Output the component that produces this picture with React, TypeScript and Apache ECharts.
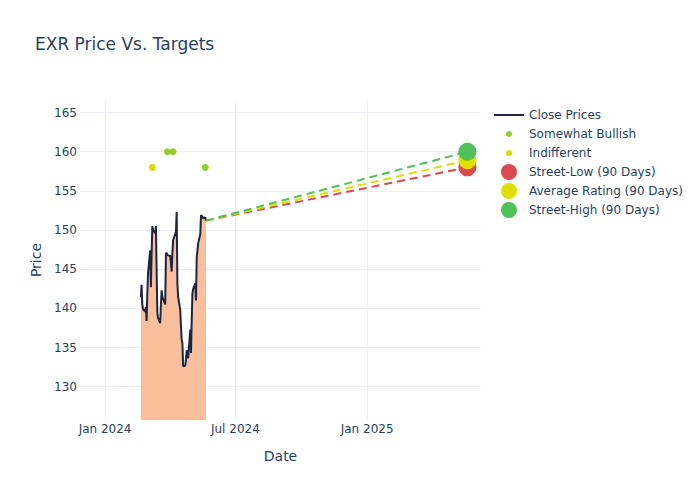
import React, { useEffect, useRef } from "react";
import * as echarts from "echarts";

const closeDates: string[] = [
  "2024-02-20", "2024-02-21", "2024-02-22", "2024-02-23", "2024-02-26", "2024-02-27", "2024-02-28", "2024-02-29",
  "2024-03-01", "2024-03-04", "2024-03-05", "2024-03-06", "2024-03-07", "2024-03-08", "2024-03-11", "2024-03-12",
  "2024-03-13", "2024-03-14", "2024-03-15", "2024-03-18", "2024-03-19", "2024-03-20", "2024-03-21", "2024-03-22",
  "2024-03-25", "2024-03-26", "2024-03-27", "2024-03-28",
  "2024-04-01", "2024-04-02", "2024-04-03", "2024-04-04", "2024-04-05", "2024-04-08", "2024-04-09", "2024-04-10",
  "2024-04-11", "2024-04-12", "2024-04-15", "2024-04-16", "2024-04-17", "2024-04-18", "2024-04-19", "2024-04-22",
  "2024-04-23", "2024-04-24", "2024-04-25", "2024-04-26", "2024-04-29", "2024-04-30",
  "2024-05-01", "2024-05-02", "2024-05-03", "2024-05-06", "2024-05-07", "2024-05-08", "2024-05-09", "2024-05-10",
  "2024-05-13", "2024-05-14", "2024-05-15", "2024-05-16", "2024-05-17", "2024-05-20", "2024-05-21",
];
const closePrices: number[] = [
  141.4, 143.0, 140.5, 139.9, 139.6, 140.2, 138.4, 141.8,
  144.5, 147.4, 142.7, 147.0, 150.5, 150.0, 149.6, 150.5,
  145.0, 139.4, 138.8, 138.1, 140.5, 142.3, 141.5, 141.2,
  140.5, 147.0, 147.1, 146.8,
  146.7, 145.8, 144.7, 147.0, 148.7, 149.5, 149.8, 152.3,
  143.2, 141.5, 139.8, 137.8, 136.0, 135.6, 132.6, 132.7,
  133.5, 134.6, 134.5, 133.6, 137.3, 134.3,
  138.5, 141.9, 142.5, 143.2, 141.0, 146.6, 147.3, 148.3,
  149.5, 151.9, 151.8, 151.7, 151.5, 151.6, 151.2,
];

const bullishDates: string[] = ["2024-03-28", "2024-04-05", "2024-05-20"];
const bullishTargets: number[] = [160, 160, 158];
const indifferentDates: string[] = ["2024-03-07"];
const indifferentTargets: number[] = [158];

const targetDate = "2025-05-21";
const streetLow = 158;
const averageRating = 158.9;
const streetHigh = 160;

const xMin = "2023-11-27";
const xMax = "2025-06-09";
const yMin = 125.75;
const yMax = 166.6;
const yStep = 0.25;
const yLabelStep = 5;
const xLabelMonths = [0, 6];

const monthNames = ["Jan", "Feb", "Mar", "Apr", "May", "Jun", "Jul", "Aug", "Sep", "Oct", "Nov", "Dec"];

const FONT = "DejaVu Sans";
const TEXT = "#2a3f5f";
const GRID = "#ebf0f8";
const NONE = "rgba(0,0,0,0)";

const lineIcon = "path://M0 0M30 16M0 7H30V9H0Z";
const smallDot = "path://M0 0M30 16M15 5A3 3 0 1 1 15 11A3 3 0 1 1 15 5Z";
const bigDot = "path://M0 0M30 16M15 0A8 8 0 1 1 15 16A8 8 0 1 1 15 0Z";

export default function App() {
  const ref = useRef<HTMLDivElement>(null);
  useEffect(() => {
    if (!ref.current) return;
    const chart = echarts.init(ref.current, undefined, { renderer: "svg" });
    const lastDate = closeDates[closeDates.length - 1];
    const lastClose = closePrices[closePrices.length - 1];
    const targetSeries = (name: string, value: number, color: string) => ({
      name,
      type: "line",
      data: [
        { value: [lastDate, lastClose], symbol: "none" },
        { value: [targetDate, value], symbol: "circle", symbolSize: 18 },
      ],
      lineStyle: { color, width: 2, type: [8, 5] },
      itemStyle: { color },
      z: 3,
    });
    const perLabel = Math.round(yLabelStep / yStep);
    const firstLabelIdx = Math.round((Math.ceil(yMin / yLabelStep) * yLabelStep - yMin) / yStep);
    const ySplitColors = Array.from({ length: perLabel }, (_, i) =>
      i === firstLabelIdx % perLabel ? GRID : NONE
    );
    const isYLabel = (v: number) => Math.abs(v / yLabelStep - Math.round(v / yLabelStep)) < 1e-6;
    chart.setOption({
      animation: false,
      backgroundColor: "#fff",
      textStyle: { fontFamily: FONT },
      title: {
        text: "EXR Price Vs. Targets",
        left: 30,
        top: 30,
        textStyle: { fontFamily: FONT, fontSize: 17, fontWeight: "normal", color: TEXT },
      },
      legend: {
        orient: "vertical",
        left: 489,
        top: 102,
        itemWidth: 30,
        itemHeight: 16,
        itemGap: 3,
        textStyle: { fontFamily: FONT, fontSize: 12, color: TEXT },
        data: [
          { name: "Close Prices", icon: lineIcon },
          { name: "Somewhat Bullish", icon: smallDot },
          { name: "Indifferent", icon: smallDot },
          { name: "Street-Low (90 Days)", icon: bigDot },
          { name: "Average Rating (90 Days)", icon: bigDot },
          { name: "Street-High (90 Days)", icon: bigDot },
        ],
      },
      grid: { left: 80, right: 219, top: 100, bottom: 80 },
      xAxis: {
        type: "time",
        min: xMin,
        max: xMax,
        splitNumber: 3,
        name: "Date",
        nameLocation: "middle",
        nameGap: 29,
        nameTextStyle: { fontFamily: FONT, fontSize: 14, color: TEXT },
        axisLine: { show: false },
        axisTick: { show: false },
        axisLabel: {
          fontFamily: FONT,
          fontSize: 12,
          color: TEXT,
          margin: 3,
          formatter: (v: number) => {
            const d = new Date(v);
            if (!xLabelMonths.includes(d.getMonth()) || d.getDate() !== 1) return "";
            return monthNames[d.getMonth()] + " " + d.getFullYear();
          },
        },
        splitLine: { show: true, lineStyle: { color: [NONE, GRID, GRID, GRID, NONE], width: 1 } },
      },
      yAxis: {
        type: "value",
        min: yMin,
        max: yMax,
        interval: yStep,
        name: "Price",
        nameLocation: "middle",
        nameGap: 36,
        nameTextStyle: { fontFamily: FONT, fontSize: 14, color: TEXT },
        axisLine: { show: false },
        axisTick: { show: false },
        axisLabel: {
          fontFamily: FONT,
          fontSize: 12,
          color: TEXT,
          margin: 3,
          showMinLabel: false,
          showMaxLabel: false,
          formatter: (v: number) => (isYLabel(v) ? String(Math.round(v)) : ""),
        },
        splitLine: { show: true, lineStyle: { color: ySplitColors, width: 1 } },
      },
      series: [
        {
          name: "Close Prices",
          type: "line",
          data: closeDates.map((d, i) => [d, closePrices[i]]),
          showSymbol: false,
          symbol: "none",
          lineStyle: { color: "#1c2640", width: 2 },
          itemStyle: { color: "#1c2640" },
          areaStyle: { color: "#f9be9b", opacity: 1, origin: "start" },
          z: 2,
        },
        {
          name: "Somewhat Bullish",
          type: "scatter",
          data: bullishDates.map((d, i) => [d, bullishTargets[i]]),
          symbolSize: 7,
          itemStyle: { color: "#9acd32", opacity: 1 },
          z: 4,
        },
        {
          name: "Indifferent",
          type: "scatter",
          data: indifferentDates.map((d, i) => [d, indifferentTargets[i]]),
          symbolSize: 7,
          itemStyle: { color: "#d8dc00", opacity: 1 },
          z: 4,
        },
        targetSeries("Street-Low (90 Days)", streetLow, "#da4a50"),
        targetSeries("Average Rating (90 Days)", averageRating, "#e0e000"),
        targetSeries("Street-High (90 Days)", streetHigh, "#4fc158"),
      ],
    });
    return () => chart.dispose();
  }, []);
  return <div ref={ref} style={{ width: 700, height: 500, position: "absolute", left: 0, top: 0 }} />;
}
